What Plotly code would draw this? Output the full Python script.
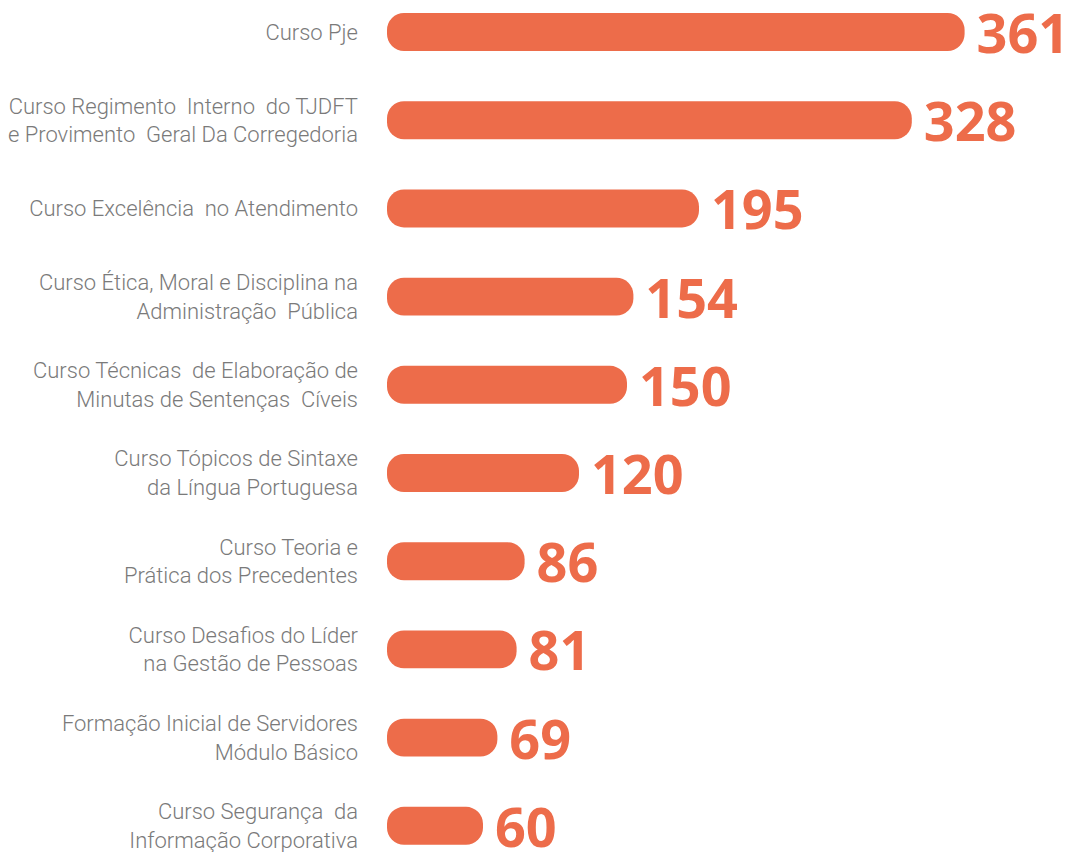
import plotly.graph_objects as go

courses = [
    "Curso Pje",
    "Curso Regimento\u00a0 Interno\u00a0 do TJDFT<br>e Provimento\u00a0 Geral Da Corregedoria",
    "Curso Excelência\u00a0 no Atendimento",
    "Curso Ética, Moral e Disciplina na<br>Administração\u00a0 Pública",
    "Curso Técnicas\u00a0 de Elaboração de<br>Minutas de Sentenças\u00a0 Cíveis",
    "Curso Tópicos de Sintaxe<br>da Língua Portuguesa",
    "Curso Teoria e<br>Prática dos Precedentes",
    "Curso Desafios do Líder<br>na Gestão de Pessoas",
    "Formação Inicial de Servidores<br>Módulo Básico",
    "Curso Segurança\u00a0 da<br>Informação Corporativa",
]
participants = [361, 328, 195, 154, 150, 120, 86, 81, 69, 60]

BAR = "#ED6C4A"

fig = go.Figure()
# explicit base -> plotly rounds both ends (capsule bars)
fig.add_trace(go.Bar(
    y=courses, x=participants, base=[0] * len(participants), orientation="h",
    marker=dict(color=BAR, cornerradius=17, line=dict(width=0)),
    text=["\u2009" + str(v) for v in participants],
    textposition="outside", constraintext="none", cliponaxis=False,
    textfont=dict(family="Open Sans, Lato, Roboto, sans-serif", size=54, color=BAR, weight=700),
    hoverinfo="skip", showlegend=False,
))

fig.update_layout(
    width=1069, height=852,
    margin=dict(l=387, r=0, t=0, b=0),
    paper_bgcolor="white", plot_bgcolor="white",
    bargap=0.57,
    xaxis=dict(range=[0, 426.25], visible=False, fixedrange=True),
    yaxis=dict(
        categoryorder="array", categoryarray=courses,
        range=[9.297, -0.363], fixedrange=True,
        showgrid=False, zeroline=False, showline=False, ticks="",
        ticklabelstandoff=28,
        tickfont=dict(family="Roboto, Lato, sans-serif", size=22, color="#7a7a7a", weight=300),
    ),
)

fig.write_html("out.html", config={"displayModeBar": False},
               post_script="document.body.style.margin='0';")
